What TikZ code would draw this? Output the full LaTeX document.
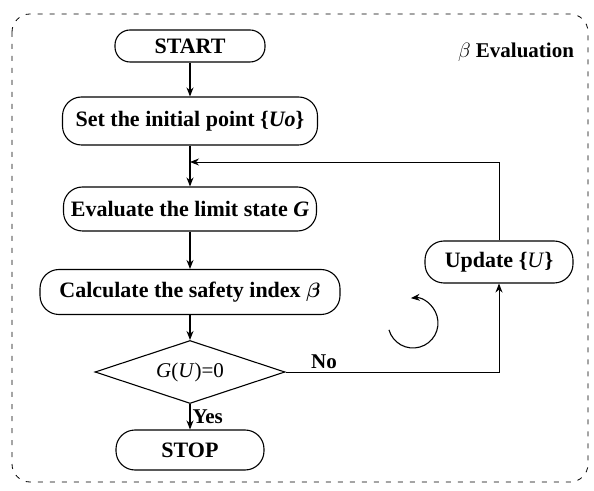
\documentclass[tikz,border=0pt]{standalone}
\usepackage{fontspec}
\usepackage{amsmath}
\setmainfont{Liberation Serif}
\usetikzlibrary{shapes.geometric, arrows.meta}

\begin{document}
\begin{tikzpicture}[->, >={Stealth[length=9pt, width=7pt]}, x=1pt, y=1pt, line width=1.1pt]
		\tikzstyle{stepbox}=[rectangle, draw, rounded corners=19pt, minimum height=44pt, inner sep=2pt, font=\fontsize{22}{24}\selectfont\bfseries]
		\tikzstyle{decision}=[diamond, draw, aspect=3, minimum width=190pt, minimum height=63pt, inner sep=0pt, font=\fontsize{21}{24}\selectfont]
		\tikzstyle{tag}=[font=\fontsize{21}{24}\selectfont\bfseries]
		
		\useasboundingbox (0,0) rectangle (594,490);
		
		% Rahmen
		\draw[-, dash pattern=on 5pt off 7pt, rounded corners=18pt, line width=0.8pt] (12,476) rectangle (588,8);
		\node[tag] (title) at (516,438) {$\beta$ Evaluation};
		
		% Hauptablauf
		\node[stepbox, minimum width=150pt, minimum height=32pt, rounded corners=15pt] (start) at (190,444) {START};
		\node[stepbox, minimum width=255pt, minimum height=48pt] (init) at (190,369) {Set the initial point \{\textit{Uo}\}};
		\node[stepbox, minimum width=253pt] (evalG) at (190,281) {Evaluate the limit state \textit{G}};
		\node[stepbox, minimum width=300pt, minimum height=45pt] (calcB) at (190,198) {Calculate the safety index $\boldsymbol{\beta}$};
		\node[decision] (check) at (190,118) {\textit{G}(\textit{U})=0};
		\node[stepbox, minimum width=148pt, minimum height=40pt] (stop) at (190,40) {STOP};
		
		% Schleife
		\node[stepbox, minimum width=148pt, minimum height=42pt] (update) at (499,228) {Update \{\textmd{\textit{U}}\}};
		\coordinate (merge) at (190,328);
		
		% Verbindungen
		\draw (start) -- (init);
		\draw (init) -- (evalG);
		\draw (evalG) -- (calcB);
		\draw (calcB) -- (check);
		\draw (check) -- node[tag, right, inner sep=2pt] {Yes} (stop);
		\draw[line width=0.9pt] (check.east) -| node[tag, above, pos=0.09] {No} (update.south);
		\draw[line width=0.9pt] (update.north) |- (merge);
		
		% Drehpfeil
		\draw (413,167) ++(196:25) arc[start angle=196, end angle=455, radius=25];
		
	\end{tikzpicture}
\end{document}
